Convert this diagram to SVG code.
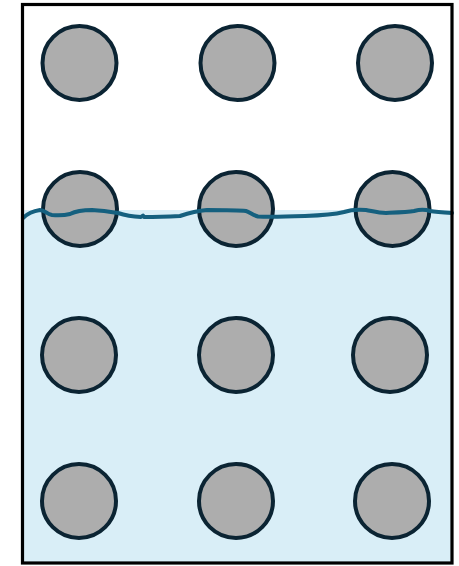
<svg xmlns="http://www.w3.org/2000/svg" width="459" height="566" viewBox="0 0 459 566">
<style>
.p{fill:#adadad;stroke:#0b2433;stroke-width:4}
.w{fill:none;stroke:#15607f;stroke-width:4;stroke-linecap:round;stroke-linejoin:round}
</style>
<rect x="0" y="0" width="459" height="566" fill="#ffffff"/>
<rect x="22" y="210" width="430" height="353" fill="#d9eef7"/>
<g id="particles">
<circle id="c11" class="p" cx="79.5" cy="63" r="37"/>
<circle id="c12" class="p" cx="237.5" cy="63" r="37"/>
<circle id="c13" class="p" cx="395" cy="63" r="37"/>
<circle id="c21" class="p" cx="80" cy="209" r="37"/>
<circle id="c22" class="p" cx="236" cy="209" r="37"/>
<circle id="c23" class="p" cx="392.5" cy="209" r="37"/>
<circle id="c31" class="p" cx="79" cy="355" r="37"/>
<circle id="c32" class="p" cx="236" cy="355" r="37"/>
<circle id="c33" class="p" cx="390" cy="355" r="37"/>
<circle id="c41" class="p" cx="79" cy="501" r="37"/>
<circle id="c42" class="p" cx="236" cy="501" r="37"/>
<circle id="c43" class="p" cx="392" cy="501" r="37"/>
</g>
<path id="waterline" class="w" d="M23,218 C27,214 33,211 40,210 C45,210 46,214 52,215 C58,215.5 66,215 70,214 C74,212 82,210 92,210 C102,210.5 112,212 118,213 C124,215 130,216.5 141,217 L143,215.5 L144,217 C155,217 170,216.5 180,216 C186,214 196,211 207,210 C220,210 238,210 246,211 C250,212 252,215 258,216.5 C270,217 290,216.5 305,216 C320,215.5 336,214 344,212 C350,210 356,209 366,210 C372,211 378,213 386,213 C396,212.5 408,212 414,211 C420,209.5 424,209 430,211 C436,212 444,212.5 452,213"/>
<rect id="frame" x="22.5" y="4.5" width="429.5" height="558.5" fill="none" stroke="#000000" stroke-width="3.2"/>
</svg>
